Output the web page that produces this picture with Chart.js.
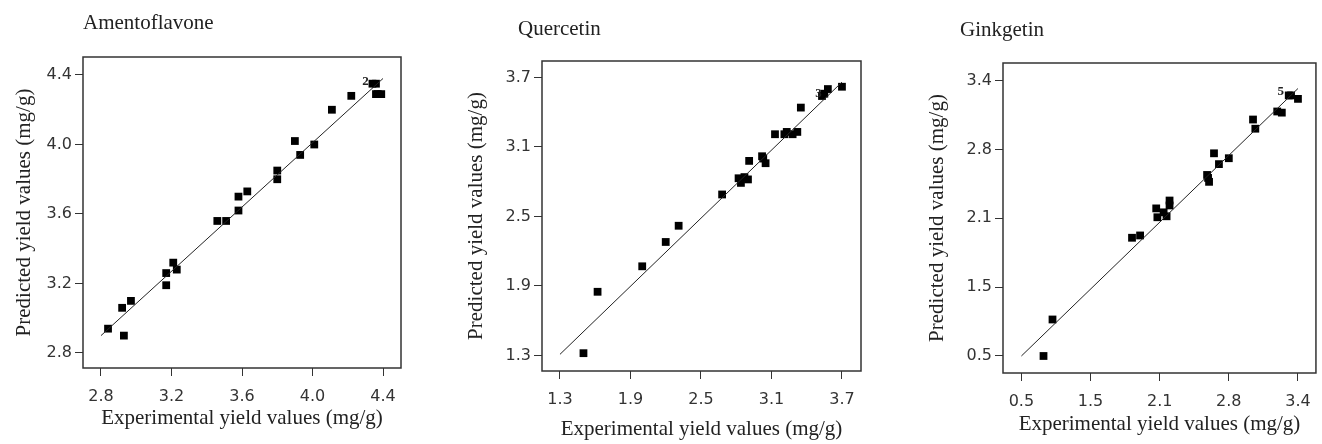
<!DOCTYPE html>
<html>
<head>
<meta charset="utf-8">
<script src="https://cdn.jsdelivr.net/npm/chart.js@4.4.1/dist/chart.umd.min.js"></script>
<style>
  body { margin: 0; background: #fff; }
  #wrap { position: relative; width: 1322px; height: 444px; }
  canvas { position: absolute; top: 0; }
</style>
</head>
<body>
<div id="wrap">
  <canvas id="c1" width="440" height="444" style="left:0px"></canvas>
  <canvas id="c2" width="441" height="444" style="left:440px"></canvas>
  <canvas id="c3" width="441" height="444" style="left:881px"></canvas>
</div>
<script>
// Amentoflavone
const amentoTicks = ['2.8', '3.2', '3.6', '4.0', '4.4'];
const amentoExp  = [2.84, 2.93, 2.92, 2.97, 3.17, 3.17, 3.21, 3.23, 3.46, 3.51, 3.58, 3.58, 3.63, 3.80, 3.80, 3.90, 3.93, 4.01, 4.11, 4.22, 4.34, 4.36, 4.36, 4.37, 4.39];
const amentoPred = [2.94, 2.90, 3.06, 3.10, 3.19, 3.26, 3.32, 3.28, 3.56, 3.56, 3.62, 3.70, 3.73, 3.80, 3.85, 4.02, 3.94, 4.00, 4.20, 4.28, 4.35, 4.35, 4.29, 4.29, 4.29];
const amentoFitX = [2.80, 4.40];
const amentoFitY = [2.90, 4.38];
const amentoMarks = [{ x: 4.30, y: 4.36, text: '2' }];

// Quercetin
const quercTicks = ['1.3', '1.9', '2.5', '3.1', '3.7'];
const quercExp  = [1.50, 1.62, 2.00, 2.20, 2.31, 2.68, 2.82, 2.84, 2.87, 2.90, 2.91, 3.02, 3.03, 3.05, 3.13, 3.21, 3.23, 3.28, 3.32, 3.35, 3.53, 3.55, 3.58, 3.70];
const quercPred = [1.32, 1.85, 2.07, 2.28, 2.42, 2.69, 2.83, 2.79, 2.84, 2.82, 2.98, 3.02, 3.00, 2.96, 3.21, 3.21, 3.23, 3.21, 3.23, 3.44, 3.54, 3.56, 3.60, 3.62];
const quercFitX = [1.30, 3.70];
const quercFitY = [1.31, 3.66];
const quercMarks = [{ x: 3.50, y: 3.56, text: '3' }];

// Ginkgetin (axis labels are unevenly stepped but evenly spaced)
const ginkTicks = ['0.5', '1.5', '2.1', '2.8', '3.4'];
const ginkExp  = [0.82, 0.95, 1.86, 1.93, 2.07, 2.08, 2.14, 2.17, 2.20, 2.20, 2.58, 2.59, 2.60, 2.65, 2.70, 2.80, 3.01, 3.03, 3.22, 3.26, 3.32, 3.34, 3.40];
const ginkPred = [0.50, 1.03, 1.93, 1.95, 2.20, 2.11, 2.16, 2.12, 2.28, 2.23, 2.54, 2.51, 2.47, 2.76, 2.65, 2.71, 3.06, 2.98, 3.13, 3.12, 3.27, 3.27, 3.24];
const ginkFitX = [0.50, 3.40];
const ginkFitY = [0.50, 3.33];
const ginkMarks = [{ x: 3.25, y: 3.30, text: '5' }];

const SERIF = '"Liberation Serif", "Times New Roman", serif';
const SANS = '"DejaVu Sans", sans-serif';

// map a value onto tick-index space (piecewise linear between tick labels)
function toPos(v, labels) {
  const t = labels.map(Number);
  let i = 0;
  while (i < t.length - 2 && v > t[i + 1]) i++;
  return i + (v - t[i]) / (t[i + 1] - t[i]);
}

const framePlugin = {
  id: 'frame',
  afterDatasetsDraw(chart, args, opts) {
    const { ctx, chartArea: a } = chart;
    ctx.save();
    ctx.strokeStyle = '#333';
    ctx.lineWidth = 1.5;
    ctx.strokeRect(a.left, a.top, a.right - a.left, a.bottom - a.top);

    ctx.fillStyle = '#222';
    ctx.textBaseline = 'alphabetic';
    ctx.textAlign = 'left';
    ctx.font = '21px ' + SERIF;
    ctx.fillText(opts.title, opts.titleX, opts.titleY);

    ctx.font = 'bold 13px ' + SERIF;
    ctx.textAlign = 'center';
    ctx.textBaseline = 'middle';
    const xs = chart.scales.x, ys = chart.scales.y;
    opts.marks.forEach(m => {
      ctx.fillText(m.text, xs.getPixelForValue(toPos(m.x, opts.xTicks)), ys.getPixelForValue(toPos(m.y, opts.yTicks)));
    });
    ctx.restore();
  }
};

function makePanel(id, p) {
  const pts = p.exp.map((v, i) => ({ x: toPos(v, p.ticks), y: toPos(p.pred[i], p.ticks) }));
  const fit = p.fitX.map((v, i) => ({ x: toPos(v, p.ticks), y: toPos(p.fitY[i], p.ticks) }));
  const ticksFor = s => { s.ticks = p.ticks.map((_, i) => ({ value: i })); };

  new Chart(document.getElementById(id), {
    type: 'scatter',
    data: {
      datasets: [
        { data: fit, showLine: true, borderColor: '#222', borderWidth: 1, pointRadius: 0 },
        { data: pts, pointStyle: 'rect', pointRadius: 5.5, backgroundColor: '#000', borderWidth: 0 }
      ]
    },
    options: {
      responsive: false,
      animation: false,
      devicePixelRatio: 1,
      layout: { padding: { top: p.padTop, right: p.padRight, bottom: 0, left: 0 } },
      plugins: {
        legend: { display: false },
        tooltip: { enabled: false },
        frame: { title: p.title, titleX: p.titleX, titleY: p.titleY, marks: p.marks, xTicks: p.ticks, yTicks: p.ticks }
      },
      scales: {
        x: {
          type: 'linear',
          min: p.xRange[0], max: p.xRange[1],
          afterBuildTicks: ticksFor,
          afterFit: s => { s.height = p.xHeight; },
          border: { display: false },
          grid: { drawOnChartArea: false, drawTicks: true, tickLength: 8, color: '#333' },
          ticks: { callback: (v, i) => p.ticks[i], font: { family: SANS, size: 16 }, color: '#333', padding: 11, maxRotation: 0 },
          title: { display: true, text: 'Experimental yield values (mg/g)', font: { family: SERIF, size: 21 }, color: '#222', padding: { top: 0, bottom: p.xTitlePad } }
        },
        y: {
          type: 'linear',
          min: p.yRange[0], max: p.yRange[1],
          afterBuildTicks: ticksFor,
          afterFit: s => { s.width = p.yWidth; },
          border: { display: false },
          grid: { drawOnChartArea: false, drawTicks: true, tickLength: 8, color: '#333' },
          ticks: { callback: (v, i) => p.ticks[i], font: { family: SANS, size: 16 }, color: '#333', padding: 3 },
          title: { display: true, text: 'Predicted yield values (mg/g)', font: { family: SERIF, size: 21 }, color: '#222', padding: { top: p.yTitlePad, bottom: 0 } }
        }
      }
    },
    plugins: [framePlugin]
  });
}

makePanel('c1', {
  title: 'Amentoflavone', titleX: 83, titleY: 29,
  ticks: amentoTicks, exp: amentoExp, pred: amentoPred, fitX: amentoFitX, fitY: amentoFitY, marks: amentoMarks,
  padTop: 57, padRight: 39, yWidth: 83, xHeight: 76, yTitlePad: 12, xTitlePad: 13,
  xRange: [-0.255, 4.255], yRange: [-0.216, 4.259]
});
makePanel('c2', {
  title: 'Quercetin', titleX: 78, titleY: 35,
  ticks: quercTicks, exp: quercExp, pred: quercPred, fitX: quercFitX, fitY: quercFitY, marks: quercMarks,
  padTop: 61, padRight: 20, yWidth: 102, xHeight: 73, yTitlePad: 24, xTitlePad: 2,
  xRange: [-0.255, 4.27], yRange: [-0.223, 4.237]
});
makePanel('c3', {
  title: 'Ginkgetin', titleX: 79, titleY: 36,
  ticks: ginkTicks, exp: ginkExp, pred: ginkPred, fitX: ginkFitX, fitY: ginkFitY, marks: ginkMarks,
  padTop: 63, padRight: 1, yWidth: 122, xHeight: 71, yTitlePad: 44, xTitlePad: 7,
  xRange: [-0.266, 4.26], yRange: [-0.247, 4.254]
});
</script>
</body>
</html>
